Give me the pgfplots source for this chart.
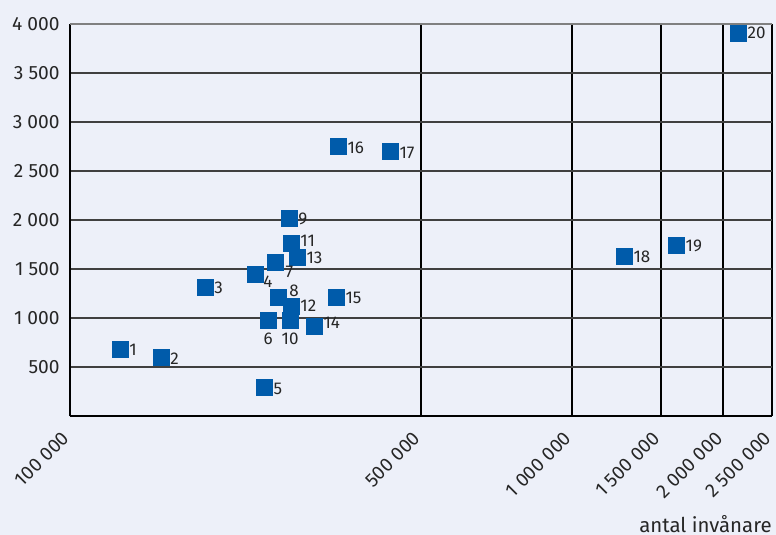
\documentclass[border=0pt]{standalone}
\usepackage{pgfplots}
\pgfplotsset{compat=1.18}
\usepackage{fontspec}
\setmainfont{Fira Sans}
\definecolor{bg}{RGB}{237,240,249}
\definecolor{mk}{RGB}{0,91,170}
\pgfplotsset{
  lbl/.style n args={3}{only marks, mark=none, point meta=explicit symbolic,
    nodes near coords={\pgfplotspointmeta},
    every node near coord/.append style={anchor=#1, xshift=#2pt, yshift=#3pt, inner sep=0pt,
      font=\fontsize{8.5pt}{10pt}\selectfont, text=black!85}},
}
\begin{document}
\begin{tikzpicture}
\fill[bg] (-35pt,-59.5pt) rectangle (353pt,208pt);
\begin{axis}[
  at={(0,0)}, anchor=south west,
  scale only axis, width=351pt, height=196pt,
  xmode=log, xmin=100000, xmax=2500000,
  ymin=0, ymax=4000,
  axis x line*=bottom, axis y line*=left,
  x axis line style={line width=1.4pt,-},
  y axis line style={line width=1.4pt,-},
  major tick length=0pt, minor tick num=0,
  xtick={100000,500000,1000000,1500000,2000000,2500000},
  xticklabels={100 000,500 000,1 000 000,1 500 000,2 000 000,2 500 000},
  ytick={500,1000,1500,2000,2500,3000,3500,4000},
  yticklabels={500,1 000,1 500,2 000,2 500,3 000,3 500,4 000},
  xmajorgrids, ymajorgrids,
  x grid style={black, line width=1pt},
  y grid style={black!75, line width=0.55pt},
  ticklabel style={font=\fontsize{9.6pt}{11pt}\selectfont, text=black!85},
  yticklabel style={inner sep=0pt, xshift=-5pt},
  xticklabel style={inner sep=0pt, yshift=-9.5pt, xshift=-2pt, rotate=45, anchor=east},
  clip=false,
  axis background/.style={fill=bg},
]
% markers
\addplot[only marks, color=mk, mark=square*, mark size=4pt, mark options={fill=mk, draw=mk, line width=0pt}] coordinates {
(125800,683) (151800,592) (185700,1316) (233600,1448) (243500,286)
(248000,979) (256100,1571) (259600,1214) (273000,2020) (274300,979)
(275500,1765) (275500,1122) (283300,1622) (306300,918) (338800,1214)
(341900,2754) (434100,2703) (1269000,1632) (1612000,1744) (2142000,3907)
};
% labels
\addplot[lbl={west}{4.5}{-0.5}] coordinates {
(125800,683) [1] (151800,592) [2] (185700,1316) [3] (243500,286) [5]
(273000,2020) [9] (283300,1622) [13] (338800,1214) [15]
(1269000,1632) [18] (1612000,1744) [19]
};
\addplot[lbl={west}{4.5}{0}] coordinates {(275500,1122) [12] (2142000,3907) [20]};
\addplot[lbl={west}{4.5}{1}] coordinates {(275500,1765) [11]};
\addplot[lbl={west}{4.5}{1.5}] coordinates {(306300,918) [14]};
\addplot[lbl={west}{4.5}{-1}] coordinates {(341900,2754) [16] (434100,2703) [17]};
\addplot[lbl={north}{0}{-6}] coordinates {(248000,979) [6] (274300,979) [10]};
\addplot[lbl={north west}{4}{-0.5}] coordinates {(233600,1448) [4]};
\addplot[lbl={north west}{5}{-2}] coordinates {(256100,1571) [7]};
\addplot[lbl={south west}{5.5}{0}] coordinates {(259600,1214) [8]};
\draw[black!50, line width=0.8pt] (rel axis cs:0,1) -- (rel axis cs:1,1);
\node[anchor=base east, inner sep=0pt, font=\fontsize{10.2pt}{12pt}\selectfont, text=black!85] at (rel axis cs:1,0) [yshift=-58pt] {antal invånare};
\end{axis}
\pgfresetboundingbox
\path (-35pt,-59.5pt) rectangle (353pt,208pt);
\end{tikzpicture}
\end{document}
